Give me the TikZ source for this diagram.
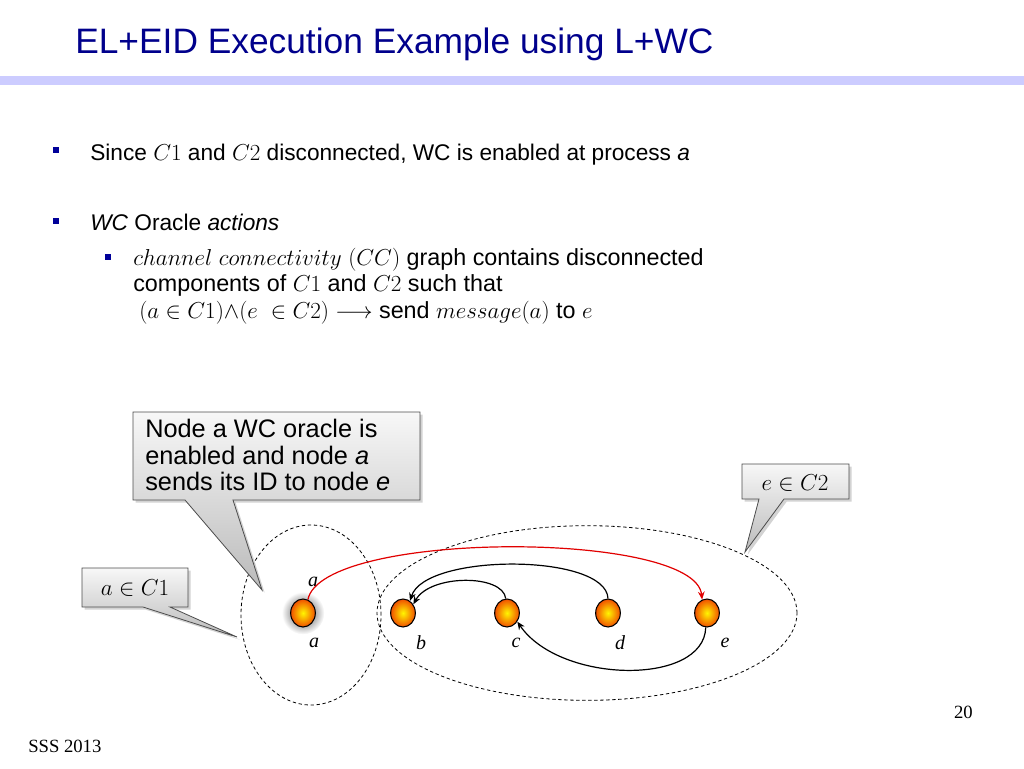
\documentclass[tikz,border=0pt]{standalone}
\usepackage{fontspec}
\setmainfont{Liberation Sans}
\newfontfamily\seriffont{Liberation Serif}
\usetikzlibrary{arrows.meta,shapes.geometric,shadows}
\definecolor{titleblue}{RGB}{0,0,140}
\definecolor{bandcol}{RGB}{204,204,255}
\definecolor{bulletblue}{RGB}{0,0,153}
\definecolor{ballin}{RGB}{255,245,0}
\definecolor{ballout}{RGB}{240,80,0}
\definecolor{arrred}{RGB}{225,0,0}
\begin{document}
\begin{tikzpicture}[x=0.75pt,y=-0.75pt,
  bodytext/.style={anchor=base west,inner sep=0,font=\fontsize{17}{21}\selectfont},
  subtext/.style={anchor=base west,inner sep=0,font=\fontsize{17.5}{20}\selectfont},
  bulletsq/.style={fill=bulletblue,minimum size=4.5pt,inner sep=0},
  ball/.style={ellipse,draw=black,line width=0.8pt,minimum width=18.5pt,minimum height=21pt,inner sep=0,inner color=ballin,outer color=ballout},
  lbl/.style={inner sep=0,font=\seriffont\itshape\fontsize{15}{17}\selectfont},
  callout/.style={draw=black!70,line width=0.6pt,top color=black!3,bottom color=black!27,drop shadow={opacity=0.35,shadow xshift=2pt,shadow yshift=-2pt}},
  comp/.style={draw=black,dash pattern=on 2.5pt off 2pt,line width=0.6pt},
  link/.style={line width=0.9pt,-{Stealth[length=6pt,width=5pt]}}
]
\useasboundingbox (0,0) rectangle (1024,768);
% title
\node[anchor=base west,inner sep=0,text=titleblue,font=\fontsize{26.5}{30}\selectfont] (title) at (75,53) {EL+EID Execution Example using L+WC};
\fill[bandcol] (0,76) rectangle (1024,85);
% bullets
\node[bulletsq] (b1) at (56,150) {};
\node[bodytext] (t1) at (90,160) {Since $C1$ and $C2$ disconnected, WC is enabled at process \textit{a}};
\node[bulletsq] (b2) at (56,221) {};
\node[bodytext] (t2) at (90,230) {\textit{WC} Oracle \textit{actions}};
\node[bulletsq,minimum size=4pt] (b3) at (108,257) {};
\node[subtext] (t3) at (133,265) {$channel\ connectivity\ (CC)$ graph contains disconnected};
\node[subtext] (t4) at (133,291) {components of $C1$ and $C2$ such that};
\node[subtext] (t5) at (139,318) {$(a\in C1){\land}(e\ \in C2)\longrightarrow$ send $message(a)$ to $e$};
% components
\draw[comp] (311,615) ellipse [x radius=52.5pt, y radius=67.5pt];
\draw[comp] (587,613) ellipse [x radius=157.5pt, y radius=65.5pt];
% callouts
\path[callout] (133,412) -- (420,412) -- (420,500) -- (233,500) -- (262,590) -- (185,500) -- (133,500) -- cycle;
\node[anchor=north west,align=left,inner sep=0,font=\fontsize{19}{20}\selectfont] (c1) at (145,419) {Node a WC oracle is\\enabled and node \textit{a}\\sends its ID to node \textit{e}};
\path[callout] (82,568) -- (188,568) -- (188,607) -- (170,607) -- (237,637) -- (143,607) -- (82,607) -- cycle;
\node[inner sep=0,font=\fontsize{17}{20}\selectfont] (c2) at (135,588) {$a\in C1$};
\path[callout] (742,464) -- (849,464) -- (849,499) -- (784,499) -- (745,552) -- (759,499) -- (742,499) -- cycle;
\node[inner sep=0,font=\fontsize{17}{20}\selectfont] (c3) at (795,483) {$e\in C2$};
% glow
\shade[inner color=black!75,outer color=white] (303,613) circle (16pt);
% nodes
\node[ball] (na) at (303,613) {};
\node[ball] (nb) at (403,613) {};
\node[ball] (nc) at (507,613) {};
\node[ball] (nd) at (608,613) {};
\node[ball] (ne) at (707,613) {};
\node[lbl] (la0) at (313,582) {a};
\node[lbl] (la) at (314,643) {a};
\node[lbl] (lb) at (421,643) {b};
\node[lbl] (lc) at (516,643) {c};
\node[lbl] (ld) at (620,643) {d};
\node[lbl] (le) at (725,643) {e};
% links
\draw[link,arrred] (na.70) .. controls (322,530) and (695,530) .. (ne.110);
\draw[link] (nd.90) .. controls (606,553) and (425,553) .. (nb.60);
\draw[link] (nc.95) .. controls (503,574) and (430,574) .. (nb.40);
\draw[link] (ne.-95) .. controls (704,686) and (560,684) .. (nc.-40);
% footer
\node[anchor=base west,inner sep=0,font=\seriffont\fontsize{14}{16}\selectfont] (foot) at (28,752) {SSS 2013};
\node[anchor=base east,inner sep=0,font=\seriffont\fontsize{14}{16}\selectfont] (pg) at (973,718) {20};
\end{tikzpicture}
\end{document}
